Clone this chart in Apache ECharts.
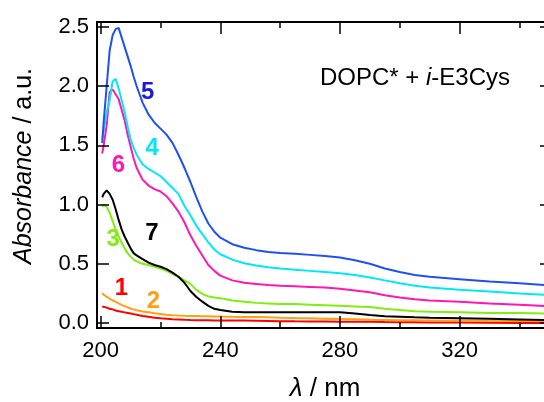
<!DOCTYPE html>
<html>
<head>
<meta charset="utf-8">
<script src="https://cdn.jsdelivr.net/npm/echarts@6/dist/echarts.min.js"></script>
<style>
  html, body { margin: 0; padding: 0; background: #fff; }
  #chart { width: 544px; height: 402px; }
</style>
</head>
<body>
<div id="chart"></div>
<script>
// wavelength grid (nm)
var wavelength = [200.5, 201, 202, 203, 204, 205, 206, 207, 208, 209, 210, 211, 212, 214, 216, 218,
    220, 222, 224, 226, 228, 230, 232, 234, 236, 238, 240, 244, 248, 252, 256, 260, 265, 270,
    275, 280, 285, 290, 295, 300, 305, 310, 320, 330, 340, 351];

// absorbance of each sample (a.u.)
var abs1 = [0.14, 0.135, 0.13, 0.12, 0.115, 0.105, 0.10, 0.095, 0.09, 0.085, 0.08, 0.075, 0.07, 0.06, 0.052, 0.045,
    0.04, 0.036, 0.032, 0.03, 0.027, 0.025, 0.024, 0.023, 0.023, 0.022, 0.022, 0.021, 0.021, 0.02, 0.018, 0.016, 0.014, 0.013,
    0.012, 0.011, 0.011, 0.01, 0.008, 0.007, 0.006, 0.005, 0.004, 0.002, 0.001, 0.0];
var abs2 = [0.25, 0.24, 0.22, 0.205, 0.19, 0.178, 0.165, 0.153, 0.143, 0.133, 0.123, 0.115, 0.108, 0.098, 0.09, 0.082,
    0.076, 0.07, 0.066, 0.063, 0.061, 0.06, 0.059, 0.058, 0.057, 0.056, 0.054, 0.052, 0.051, 0.05, 0.048, 0.045, 0.042, 0.04,
    0.037, 0.034, 0.031, 0.028, 0.026, 0.024, 0.023, 0.022, 0.02, 0.019, 0.018, 0.018];
var abs3 = [0.98, 1.00, 0.98, 0.93, 0.86, 0.79, 0.73, 0.68, 0.63, 0.59, 0.56, 0.535, 0.52, 0.50, 0.49, 0.475,
    0.46, 0.44, 0.415, 0.39, 0.36, 0.33, 0.28, 0.245, 0.225, 0.215, 0.21, 0.19, 0.18, 0.17, 0.165, 0.16, 0.16, 0.155,
    0.15, 0.145, 0.14, 0.135, 0.12, 0.11, 0.10, 0.095, 0.09, 0.085, 0.085, 0.08];
var abs4 = [1.55, 1.62, 1.78, 1.88, 2.04, 2.06, 1.98, 1.88, 1.78, 1.66, 1.55, 1.48, 1.42, 1.34, 1.30, 1.27,
    1.24, 1.19, 1.14, 1.09, 0.99, 0.91, 0.82, 0.75, 0.68, 0.62, 0.58, 0.535, 0.505, 0.485, 0.47, 0.46, 0.45, 0.44,
    0.43, 0.42, 0.405, 0.385, 0.36, 0.335, 0.315, 0.30, 0.28, 0.265, 0.25, 0.235];
var abs5 = [1.52, 1.70, 2.00, 2.30, 2.43, 2.48, 2.49, 2.41, 2.33, 2.25, 2.17, 2.08, 2.00, 1.86, 1.76, 1.69,
    1.64, 1.59, 1.52, 1.42, 1.31, 1.19, 1.06, 0.94, 0.84, 0.77, 0.72, 0.665, 0.635, 0.615, 0.60, 0.59, 0.585, 0.575,
    0.565, 0.552, 0.53, 0.50, 0.46, 0.43, 0.405, 0.39, 0.37, 0.35, 0.335, 0.315];
var abs6 = [1.43, 1.50, 1.67, 1.95, 1.97, 1.93, 1.89, 1.80, 1.71, 1.59, 1.49, 1.39, 1.31, 1.21, 1.16, 1.13,
    1.11, 1.07, 1.01, 0.94, 0.85, 0.74, 0.65, 0.57, 0.49, 0.44, 0.40, 0.36, 0.34, 0.33, 0.32, 0.315, 0.31, 0.305,
    0.30, 0.29, 0.275, 0.26, 0.235, 0.215, 0.20, 0.19, 0.18, 0.165, 0.155, 0.14];
var abs7 = [1.06, 1.09, 1.12, 1.09, 1.04, 0.96, 0.87, 0.79, 0.73, 0.68, 0.63, 0.59, 0.57, 0.54, 0.51, 0.49,
    0.475, 0.455, 0.425, 0.39, 0.34, 0.27, 0.22, 0.18, 0.145, 0.12, 0.11, 0.095, 0.09, 0.09, 0.09, 0.09, 0.09, 0.09,
    0.09, 0.09, 0.08, 0.068, 0.058, 0.053, 0.048, 0.045, 0.04, 0.035, 0.03, 0.025];

var xMajor = [200, 240, 280, 320];
var xMinor = [220, 260, 300, 340];
var yMajor = [0, 0.5, 1.0, 1.5, 2.0, 2.5];

function pairs(ys) {
    return wavelength.map(function (w, i) { return [w, ys[i]]; });
}

// 曲线编号, 颜色, 标注位置
var curves = [
    {name: '1', data: abs1, color: '#ff0000', label: '#ff0000', at: [206.9, 0.29]},
    {name: '2', data: abs2, color: '#ffa010', label: '#ffa010', at: [217.6, 0.18]},
    {name: '3', data: abs3, color: '#80ee10', label: '#80ee10', at: [204.2, 0.71]},
    {name: '7', data: abs7, color: '#000000', label: '#000000', at: [217.1, 0.76]},
    {name: '6', data: abs6, color: '#ff18b0', label: '#ff18b0', at: [205.9, 1.33]},
    {name: '4', data: abs4, color: '#00e8f8', label: '#00e8f8', at: [217.2, 1.47]},
    {name: '5', data: abs5, color: '#1f50f0', label: '#1a1ad8', at: [215.7, 1.95]}
];

var font = '"Liberation Sans", Arial, sans-serif';

var series = curves.map(function (c) {
    return {
        type: 'line',
        name: c.name,
        data: pairs(c.data),
        showSymbol: false,
        lineStyle: {color: c.color, width: 2},
        markPoint: {
            symbol: 'circle',
            symbolSize: 0,
            label: {
                show: true,
                position: 'inside',
                formatter: c.name,
                color: c.label,
                fontSize: 24,
                fontWeight: 'bold',
                fontFamily: font
            },
            data: [{coord: c.at}]
        }
    };
});

function xAxisDef(pos, ticks, len, showLabel) {
    return {
        type: 'value',
        position: pos,
        min: 198.76,
        max: 350.9,
        z: 5,
        axisLine: {show: true, onZero: false, lineStyle: {color: '#000', width: 2}},
        axisTick: {show: true, inside: true, length: len, customValues: ticks, lineStyle: {color: '#000', width: 1.5}},
        axisLabel: {show: showLabel, customValues: ticks, fontSize: 22, color: '#000', fontFamily: font, margin: 12},
        splitLine: {show: false}
    };
}

function yAxisDef(pos, showLabel) {
    return {
        type: 'value',
        position: pos,
        min: -0.042,
        max: 2.54,
        z: 5,
        axisLine: {show: true, onZero: false, lineStyle: {color: '#000', width: 2}},
        axisTick: {show: true, inside: true, length: 12, customValues: yMajor, lineStyle: {color: '#000', width: 1.5}},
        axisLabel: {
            show: showLabel, customValues: yMajor, fontSize: 22, color: '#000', fontFamily: font, margin: 8,
            formatter: function (v) { return v.toFixed(1); }
        },
        splitLine: {show: false}
    };
}

var chart = echarts.init(document.getElementById('chart'));
chart.setOption({
    animation: false,
    // 右侧边框在画布外, 关掉 outerBounds 以免网格被压缩
    grid: {
        left: 97, top: 22, right: -8, bottom: 74, outerBoundsMode: 'none',
        show: true, borderColor: '#000', borderWidth: 2, backgroundColor: 'transparent'
    },
    xAxis: [
        xAxisDef('bottom', xMajor, 12, true),
        xAxisDef('bottom', xMinor, 6, false),
        xAxisDef('top', xMajor, 12, false),
        xAxisDef('top', xMinor, 6, false)
    ],
    yAxis: [
        yAxisDef('left', true),
        yAxisDef('right', false)
    ],
    graphic: [
        {
            type: 'text',
            x: 320,
            y: 66,
            style: {
                text: '{n|DOPC* + }{i|i}{n|-E3Cys}',
                fill: '#000',
                rich: {
                    n: {fontSize: 24, fontFamily: font, fill: '#000'},
                    i: {fontSize: 24, fontFamily: font, fontStyle: 'italic', fill: '#000'}
                }
            }
        },
        {
            type: 'text',
            x: 24,
            y: 166,
            rotation: Math.PI / 2,
            style: {
                text: '{i|Absorbance}{n| / a.u.}',
                align: 'center',
                verticalAlign: 'middle',
                rich: {
                    n: {fontSize: 25, fontFamily: font, fill: '#000'},
                    i: {fontSize: 25, fontFamily: font, fontStyle: 'italic', fill: '#000'}
                }
            }
        },
        {
            type: 'text',
            x: 325,
            y: 389,
            style: {
                text: '{i|λ}{n| / nm}',
                align: 'center',
                verticalAlign: 'middle',
                rich: {
                    n: {fontSize: 26, fontFamily: font, fill: '#000'},
                    i: {fontSize: 26, fontFamily: font, fontStyle: 'italic', fill: '#000'}
                }
            }
        }
    ],
    series: series
});
</script>
</body>
</html>
